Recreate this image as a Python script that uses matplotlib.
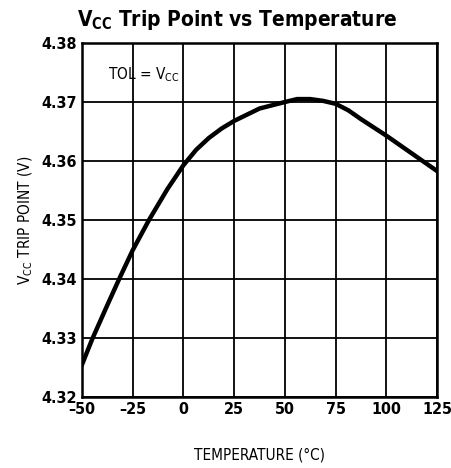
import numpy as np
import matplotlib.pyplot as plt

plt.rcParams['font.family'] = ['DejaVu Sans']
plt.rcParams['font.stretch'] = 'condensed'

temps = [-50, -45, -37.5, -31.7, -25, -17, -8, 0, 6.25, 12.5, 18.75, 25, 37.5, 50,
         56, 62.5, 68.75, 75, 81.25, 87.5, 93.75, 100, 112.5, 125]
trip = [4.3255, 4.3298, 4.3356, 4.3400, 4.3449, 4.3500, 4.3552, 4.3593, 4.3619,
        4.3639, 4.3655, 4.3668, 4.3689, 4.3700, 4.3705, 4.3705, 4.3702, 4.3697,
        4.3686, 4.3671, 4.3657, 4.3643, 4.3613, 4.3583]

xticks = [-50, -25, 0, 25, 50, 75, 100, 125]
yticks = [4.32, 4.33, 4.34, 4.35, 4.36, 4.37, 4.38]

fig = plt.figure(figsize=(4.51, 4.68), dpi=100)
ax = fig.add_axes([0.182, 0.152, 0.787, 0.756])

ax.plot(temps, trip, color='black', lw=3.2, solid_joinstyle='round')
ax.set_xlim(-50, 125)
ax.set_ylim(4.32, 4.38)
ax.set_xticks(xticks)
ax.set_xticklabels([str(t).replace('-', '\u2013') for t in xticks])
ax.set_yticks(yticks)
ax.set_yticklabels(['%.2f' % v for v in yticks])
ax.grid(True, color='black', lw=1.3)
ax.tick_params(length=0, labelsize=11.5, pad=4)
for lab in ax.get_xticklabels() + ax.get_yticklabels():
    lab.set_fontweight('bold')
for s in ax.spines.values():
    s.set_linewidth(1.8)

ax.set_xlabel('TEMPERATURE (\u00b0C)', fontsize=11, labelpad=22)
ax.set_ylabel('V$_{\\mathregular{CC}}$ TRIP POINT (V)', fontsize=11, labelpad=4)
ax.text(-37, 4.3746, 'TOL = V$_{\\mathregular{CC}}$', fontsize=11, va='center')
fig.text(0.526, 0.957, 'V$_{\\mathregular{CC}}$ Trip Point vs Temperature',
         ha='center', va='center', fontsize=15, fontweight='bold')

fig.savefig('out.png', dpi=100)
